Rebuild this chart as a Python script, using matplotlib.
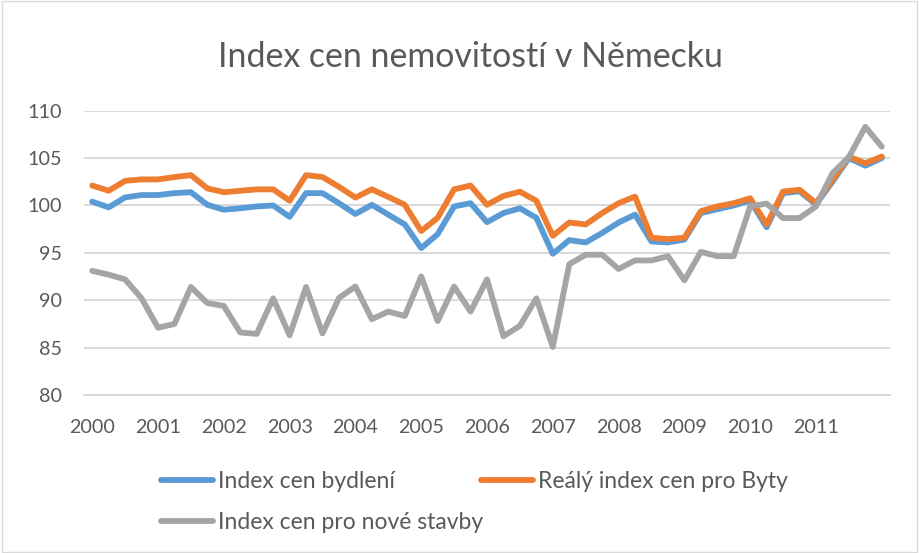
import matplotlib
matplotlib.use("Agg")
import matplotlib.pyplot as plt
from matplotlib.patches import Rectangle

plt.rcParams['font.family'] = ['Lato', 'DejaVu Sans']

years = ["2000", "2001", "2002", "2003", "2004", "2005", "2006",
         "2007", "2008", "2009", "2010", "2011"]

index_bydleni = [100.4, 99.8, 100.85, 101.1, 101.1, 101.3, 101.4,
                 100.07, 99.55, 99.7, 99.9, 100.0, 98.8, 101.3,
                 101.3, 100.24, 99.1, 100.07, 99.03, 98.0, 95.5,
                 96.97, 99.9, 100.24, 98.24, 99.2, 99.7, 98.7,
                 94.9, 96.34, 96.1, 97.1, 98.2, 99.03, 96.2,
                 96.1, 96.4, 99.2, 99.6, 100.0, 100.5, 97.7,
                 101.3, 101.5, 100.1, 102.5, 105.0, 104.2, 105.0]

realny_byty = [102.1, 101.55, 102.6, 102.75, 102.75, 103.0, 103.2,
               101.8, 101.4, 101.55, 101.7, 101.7, 100.5, 103.2,
               103.0, 101.97, 100.83, 101.7, 100.9, 100.07, 97.3,
               98.7, 101.7, 102.1, 100.07, 101.0, 101.45, 100.5,
               96.8, 98.2, 98.0, 99.2, 100.24, 100.93, 96.6,
               96.45, 96.6, 99.4, 99.9, 100.24, 100.76, 98.0,
               101.47, 101.65, 100.25, 102.7, 105.16, 104.46, 105.16]

nove_stavby = [93.1, 92.7, 92.2, 90.2, 87.1, 87.5, 91.4,
               89.7, 89.4, 86.6, 86.45, 90.2, 86.3, 91.4,
               86.5, 90.24, 91.45, 88.0, 88.8, 88.34, 92.5,
               87.8, 91.45, 88.8, 92.2, 86.2, 87.3, 90.2,
               85.07, 93.8, 94.8, 94.8, 93.3, 94.2, 94.2,
               94.65, 92.1, 95.1, 94.65, 94.65, 99.9, 100.2,
               98.67, 98.67, 99.9, 103.4, 105.1, 108.3, 106.2]

series_names = ["Index cen bydlení", "Reálý index cen pro Byty", "Index cen pro nové stavby"]
colors = ["#5B9BD5", "#ED7D31", "#A5A5A5"]
text_color = "#595959"

fig = plt.figure(figsize=(9.19, 5.53), dpi=100)
ax = fig.add_axes([84/919, 1-395/553, (890-84)/919, (395-110.7)/553])

x = list(range(len(index_bydleni)))
l1, = ax.plot(x, index_bydleni, color=colors[0], lw=4.2, solid_joinstyle='round', solid_capstyle='round', zorder=3)
l2, = ax.plot(x, realny_byty, color=colors[1], lw=4.2, solid_joinstyle='round', solid_capstyle='round', zorder=4)
l3, = ax.plot(x, nove_stavby, color=colors[2], lw=4.2, solid_joinstyle='round', solid_capstyle='round', zorder=5)

ax.set_xlim(-0.5, len(x) - 0.5)
ax.set_ylim(80, 110)
ax.set_yticks(range(80, 111, 5))
ax.set_xticks([4*i for i in range(len(years))])
ax.set_xticklabels(years)
ax.grid(axis='y', color='#D9D9D9', lw=1.4, zorder=0)
for s in ['top', 'right', 'left']:
    ax.spines[s].set_visible(False)
ax.spines['bottom'].set_color('#D9D9D9')
ax.spines['bottom'].set_linewidth(1.4)
ax.tick_params(axis='both', length=0, labelsize=14.2, colors=text_color)
ax.tick_params(axis='y', pad=15.8)
ax.tick_params(axis='x', pad=17.5)

fig.text(0.512, 1-57/553, "Index cen nemovitostí v Německu", ha='center', va='center',
         fontsize=24.4, color=text_color)

leg = fig.legend([l1, l3, l2], [series_names[0], series_names[2], series_names[1]],
                 ncol=2, loc='center left', bbox_to_anchor=(140/919, 1-502/553),
                 frameon=False, fontsize=16.5, labelcolor=text_color,
                 handlelength=2.27, handletextpad=0.22, columnspacing=-0.1,
                 labelspacing=0.85)
for h in leg.legend_handles:
    h.set_linewidth(4.2)
    h.set_solid_capstyle('round')

fig.patches.append(Rectangle((0.002, 0.002), 0.996, 0.996, transform=fig.transFigure,
                             fill=False, edgecolor='#D9D9D9', lw=1.0))

fig.savefig("out.png", dpi=100)
